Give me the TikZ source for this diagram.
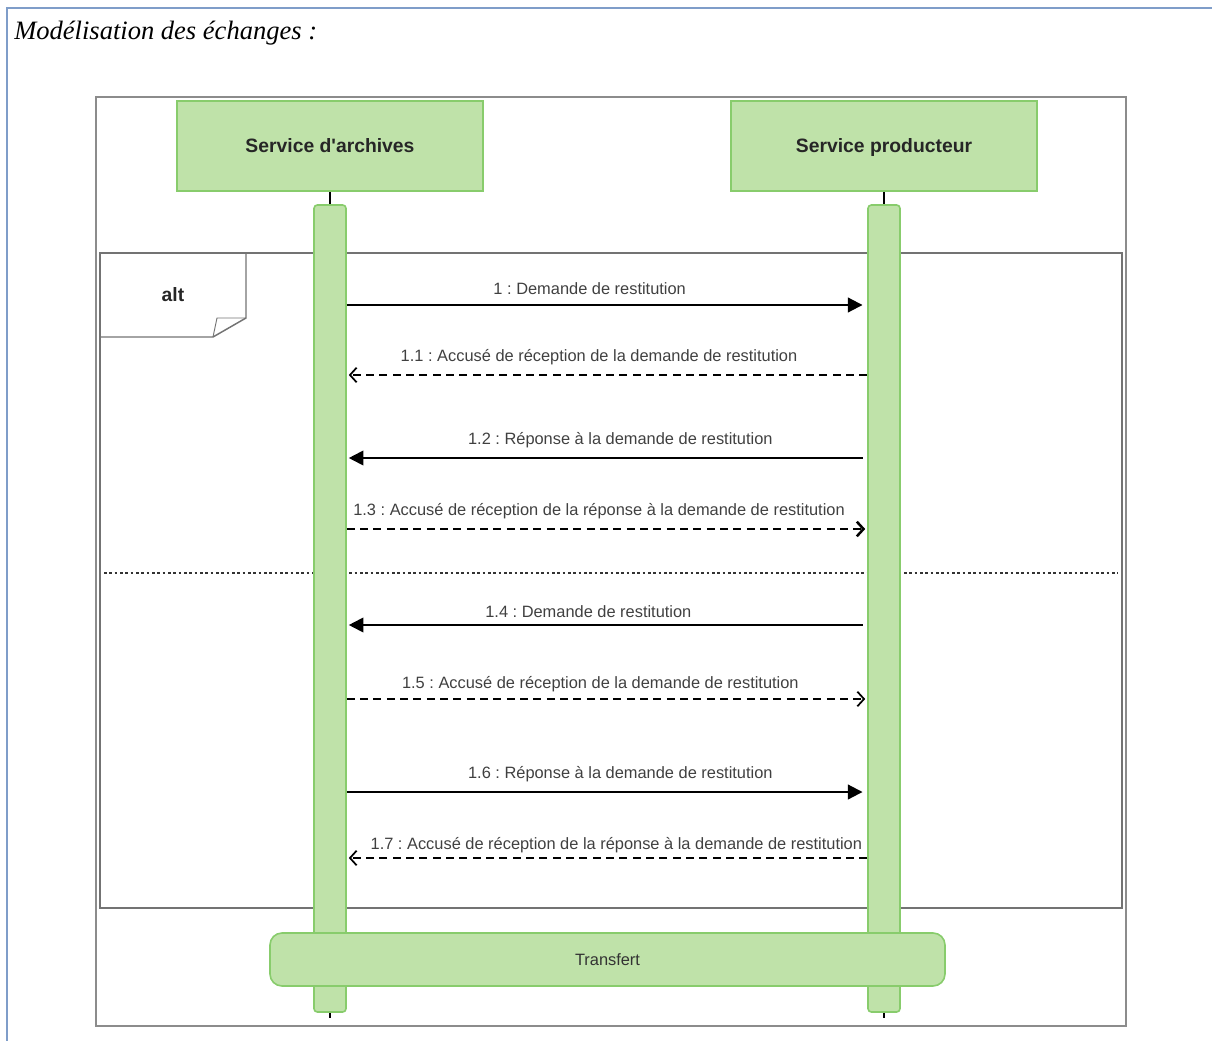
\documentclass[tikz,border=0pt]{standalone}
\usepackage{fontspec}
\setmainfont{Liberation Serif}
\newfontfamily\diagfont{Liberation Sans}
\usetikzlibrary{arrows.meta}
\usetikzlibrary{positioning}
\frenchspacing
\definecolor{lifegreen}{HTML}{BFE2A9}
\definecolor{linegreen}{HTML}{88CC6C}
\definecolor{pageblue}{HTML}{7F9DC9}
\tikzstyle{header} = [rectangle, minimum width=229.5pt, minimum height=67.5pt, text height=2.4ex, text depth=0.4ex, draw=linegreen, line width=1.2pt, fill=lifegreen, text=black!85, font=\diagfont\fontsize{14.5}{17}\selectfont\bfseries]
\tikzstyle{bar} = [rectangle, rounded corners=2.5pt, minimum width=24pt, minimum height=605.25pt, inner sep=0pt, draw=linegreen, line width=1.2pt, fill=lifegreen]
\tikzstyle{sync} = [rectangle, rounded corners=9pt, minimum width=506.25pt, minimum height=39.75pt, draw=linegreen, line width=1.2pt, fill=lifegreen, text=black!80, font=\diagfont\fontsize{12.3}{14}\selectfont]
\tikzstyle{msg} = [line width=1.5pt, -{Triangle[length=11pt,width=11pt]}]
\tikzstyle{reply} = [line width=1.3pt, dash pattern=on 6pt off 4pt, -{Straight Barb[length=5pt,width=11pt]}]
\tikzstyle{msglabel} = [above=6pt, inner sep=1pt, text=black!75, font=\diagfont\fontsize{12.3}{14}\selectfont]
\tikzstyle{frame} = [draw=black!45, line width=1.8pt]
\tikzstyle{altframe} = [draw=black!55, line width=1.1pt]

\begin{document}
\begin{tikzpicture}[x=0.75pt, y=-0.75pt]
\useasboundingbox (0,0) rectangle (1212,1041);
% page border and title
\draw [pageblue, line width=1.1pt] (1212,8) -- (7,8) -- (7,1041);
\node (title) [anchor=base west, inner sep=0pt, font=\itshape\fontsize{19.9}{22}\selectfont] at (14,40) {Modélisation des échanges :};

% frames
\draw [frame] (96,97) rectangle (1126,1026);
\draw [altframe] (100,253) rectangle (1122,908);
\draw [altframe] (100,253) -- (246,253) -- (246,318) -- (213,337) -- (100,337);
\draw [altframe, line width=0.7pt] (213,337) -- (217,318) -- (246,318);
\node (alt) [font=\diagfont\fontsize{14.5}{17}\selectfont\bfseries, text=black!85] at (173,295) {alt};
\draw [black!80, line width=0.9pt, dash pattern=on 2pt off 2pt] (104,573) -- (1118,573);

% lifelines
\node (archives) [header] at (330,146) {Service d'archives};
\node (producteur) [header] at (884,146) {Service producteur};
\node (barA) [bar] at (330,608.5) {};
\node (barB) [bar] at (884,608.5) {};
\coordinate (endA) at (330,1018);
\coordinate (endB) at (884,1018);
\draw [line width=1.2pt] (archives.south) -- (barA.north);
\draw [line width=1.2pt] (producteur.south) -- (barB.north);
\draw [line width=1.2pt] (barA.south) -- (endA);
\draw [line width=1.2pt] (barB.south) -- (endB);

% messages
\coordinate (m1) at (0,305);
\coordinate (m2) at (0,375);
\coordinate (m3) at (0,458);
\coordinate (m4) at (0,529);
\coordinate (m5) at (0,625);
\coordinate (m6) at (0,699);
\coordinate (m7) at (0,792);
\coordinate (m8) at (0,858);
\draw [msg, shorten >=3.5pt] (barA.east |- m1) -- node[msglabel, xshift=-13pt] {1 : Demande de restitution} (barB.west |- m1);
\draw [reply, shorten >=1.5pt] (barB.west |- m2) -- node[msglabel, xshift=-6pt] {1.1 : Accusé de réception de la demande de restitution} (barA.east |- m2);
\draw [msg, shorten >=1.5pt, shorten <=3.5pt] (barB.west |- m3) -- node[msglabel, xshift=10pt] {1.2 : Réponse à la demande de restitution} (barA.east |- m3);
\draw [reply, line width=1.9pt, shorten >=1.5pt] (barA.east |- m4) -- node[msglabel, xshift=-6pt] {1.3 : Accusé de réception de la réponse à la demande de restitution} (barB.west |- m4);
\draw [msg, shorten >=1.5pt, shorten <=3.5pt] (barB.west |- m5) -- node[msglabel, above=3.5pt, xshift=-14pt] {1.4 : Demande de restitution} (barA.east |- m5);
\draw [reply, shorten >=1.5pt] (barA.east |- m6) -- node[msglabel, above=3.5pt, xshift=-5pt] {1.5 : Accusé de réception de la demande de restitution} (barB.west |- m6);
\draw [msg, shorten >=3.5pt] (barA.east |- m7) -- node[msglabel, xshift=10pt] {1.6 : Réponse à la demande de restitution} (barB.west |- m7);
\draw [reply, shorten >=1.5pt] (barB.west |- m8) -- node[msglabel, above=2pt, xshift=7pt] {1.7 : Accusé de réception de la réponse à la demande de restitution} (barA.east |- m8);

% transfert
\node (transfert) [sync] at (607.5,959.5) {Transfert};
\end{tikzpicture}
\end{document}
